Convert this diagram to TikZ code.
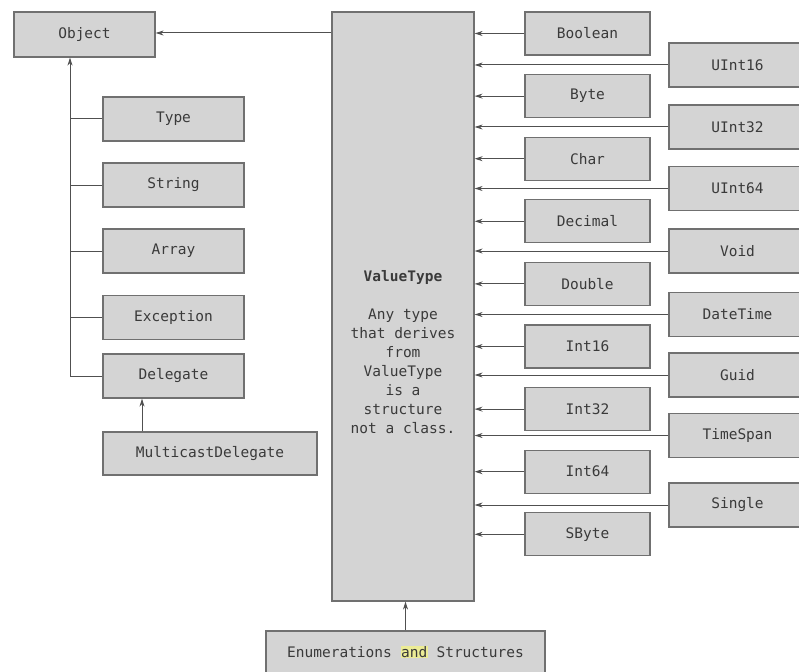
\documentclass[tikz,border=0pt]{standalone}
\usepackage{fontspec}
\usetikzlibrary{arrows.meta}
\newfontfamily\monofam{DejaVu Sans Mono}
\definecolor{boxfill}{RGB}{212,212,212}
\definecolor{boxline}{RGB}{112,112,112}
\definecolor{txt}{RGB}{58,58,58}
\definecolor{wire}{RGB}{80,80,80}
\definecolor{hilite}{RGB}{236,236,150}
\tikzset{
  typebox/.style={draw=boxline, fill=boxfill, line width=1.2pt, inner sep=0pt,
    text=txt, font=\monofam\fontsize{14.5}{19}\selectfont, anchor=center},
  inner/.style={typebox, minimum width=125pt, minimum height=43pt},
  outer/.style={typebox, minimum width=137pt, minimum height=44pt},
  leftbox/.style={typebox, minimum width=141pt, minimum height=44pt},
  wireline/.style={draw=wire, line width=1pt},
  arr/.style={wireline, -{Stealth[length=8pt,width=5pt]}},
}
\begin{document}
\begin{tikzpicture}[x=1pt,y=-1pt]
\useasboundingbox (0,0) rectangle (799,671);
\clip (0,0) rectangle (799,671);

% central ValueType block
\node[typebox, minimum width=142pt, minimum height=589pt] (vt) at (403,306.5) {};
\node[text=txt, font=\monofam\fontsize{14.5}{19}\selectfont, align=center, inner sep=0pt]
  (vtlabel) at (403,352)
  {{\bfseries ValueType}\\ ~\\ Any type\\ that derives\\ from\\ ValueType\\ is a\\ structure\\ not a class.};

% reference types on the left
\node[typebox, minimum width=141pt, minimum height=45pt] (obj) at (84.5,34.5) {Object};
\node[leftbox] (type) at (173.5,119) {Type};
\node[leftbox] (str) at (173.5,185) {String};
\node[leftbox] (arr) at (173.5,251) {Array};
\node[leftbox] (exc) at (173.5,317.5) {Exception};
\node[leftbox] (deleg) at (173.5,376) {Delegate};
\node[typebox, minimum width=214pt, minimum height=43pt] (mcd) at (210,453.5) {MulticastDelegate};

\coordinate (trunk) at (70,376);
\draw[arr] (trunk) -- (trunk |- obj.south);
\foreach \n in {type,str,arr,exc,deleg}
  \draw[wireline] (\n.west) -- (\n.west -| trunk);
\draw[arr] (vt.west |- 0,33) -- (obj.east |- 0,33);
\coordinate (mcup) at (142,453.5);
\draw[arr] (mcup |- mcd.north) -- (mcup |- deleg.south);

% value types, inner column
\foreach \n/\t/\y in {bool/Boolean/33.5, byte/Byte/96.1, char/Char/158.7,
    dec/Decimal/221.3, dbl/Double/283.9, i16/Int16/346.5, i32/Int32/409.1,
    i64/Int64/471.7, sbyte/SByte/534.3} {
  \node[inner] (\n) at (587.5,\y) {\t};
  \draw[arr] (\n.west) -- (\n.west -| vt.east);
}

% value types, outer column
\foreach \n/\t/\y in {u16/UInt16/65, u32/UInt32/127, u64/UInt64/188.5,
    void/Void/251, dt/DateTime/314.5, guid/Guid/375, ts/TimeSpan/435.5,
    single/Single/505} {
  \node[outer] (\n) at (737.5,\y) {\t};
  \draw[arr] (\n.west) -- (\n.west -| vt.east);
}

% enumerations and structures
\node[typebox, minimum width=279pt, minimum height=42pt] (enum) at (405.5,652)
  {Enumerations {\setlength{\fboxsep}{0.5pt}\colorbox{hilite}{and}} Structures};
\draw[arr] (enum.north) -- (enum.north |- vt.south);
\end{tikzpicture}
\end{document}
